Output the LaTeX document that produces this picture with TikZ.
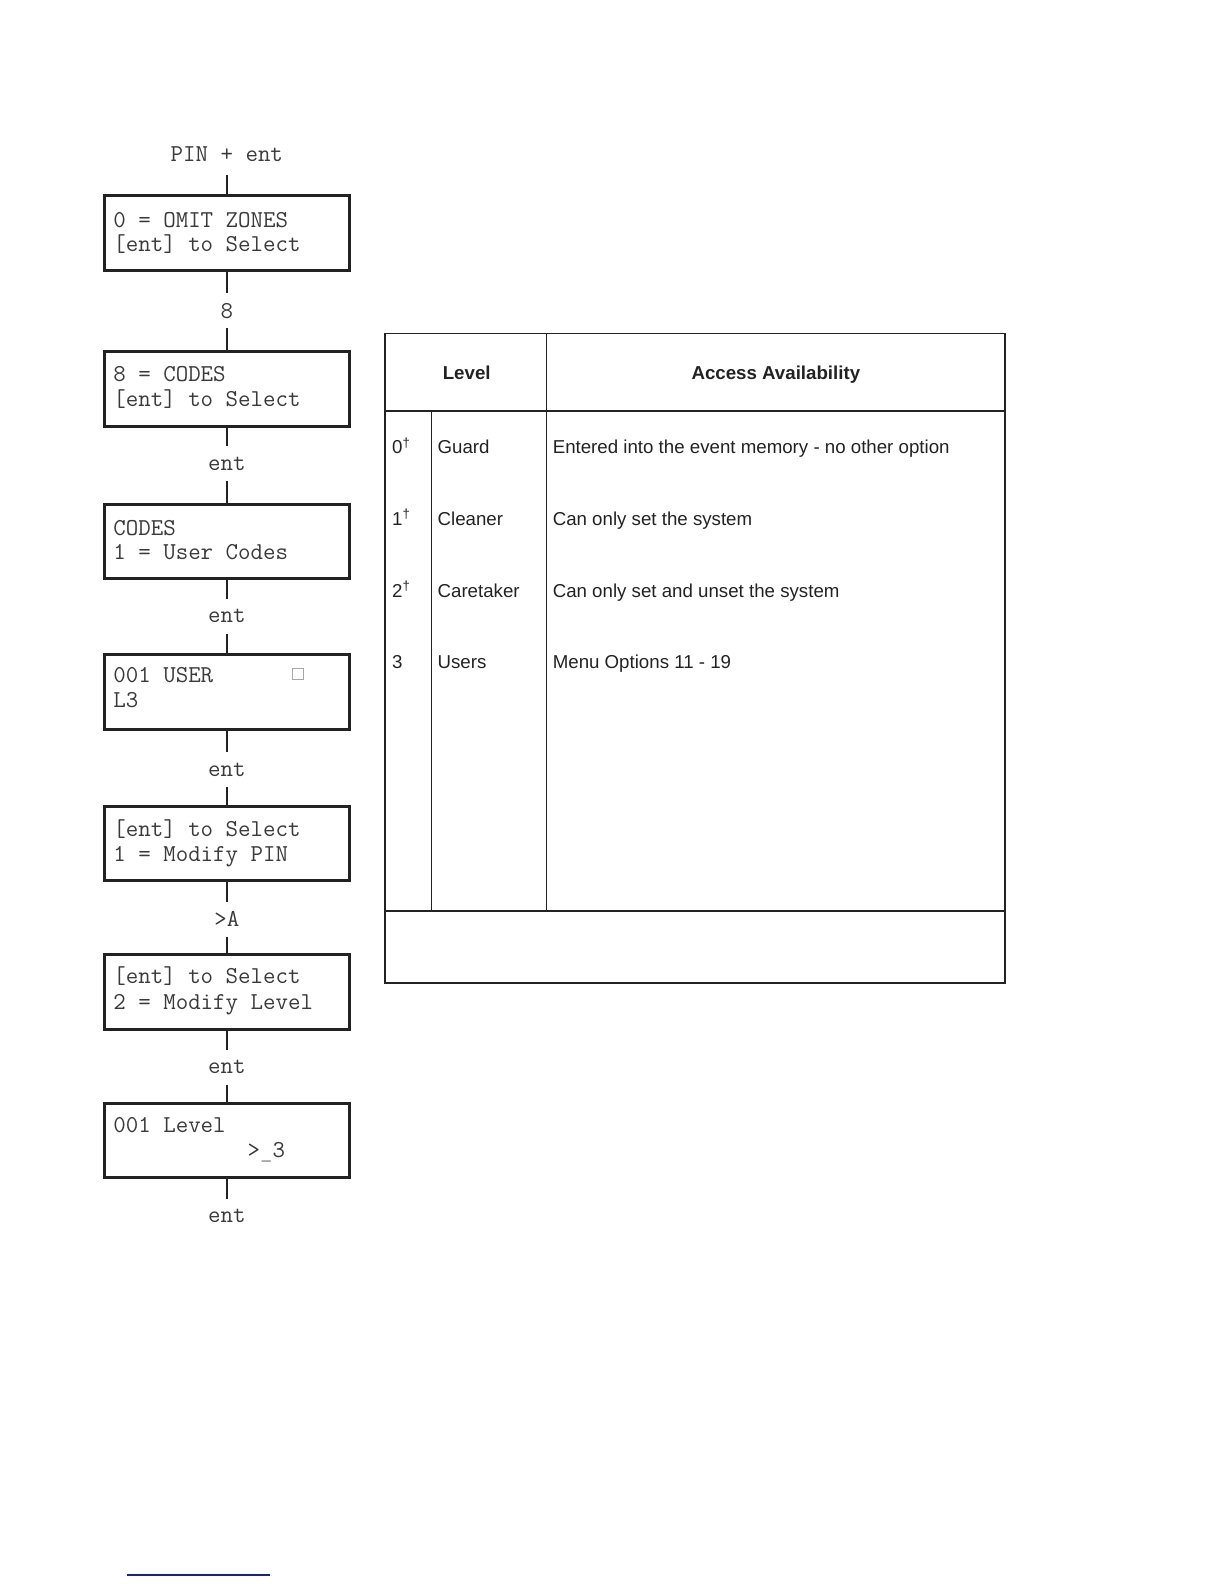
\documentclass[tikz,border=0pt]{standalone}
\usepackage{fontspec}
\setmainfont{Liberation Sans}
\usetikzlibrary{calc}
\definecolor{ink}{HTML}{222222}
\definecolor{lcdink}{HTML}{3A3A3A}
\definecolor{footblue}{HTML}{1A237E}
\tikzset{
  lcdbox/.style={draw=ink, line width=3pt, minimum width=243pt, minimum height=74pt, inner sep=0pt},
  lcdtext/.style={anchor=base west, inner sep=0pt, text=lcdink, font=\fontsize{24}{25}\selectfont\ttfamily},
  keylab/.style={inner sep=0pt, minimum height=34pt, text=lcdink, font=\fontsize{24}{25}\selectfont\ttfamily},
  conn/.style={draw=ink, line width=2.5pt},
  tline/.style={draw=ink, line width=1.6pt},
  thead/.style={inner sep=0pt, anchor=base, text=ink, font=\fontsize{18.5}{20}\selectfont\bfseries},
  tcell/.style={inner sep=0pt, anchor=base west, text=ink, font=\fontsize{18.5}{20}\selectfont},
}
\begin{document}
\begin{tikzpicture}[x=1pt,y=-1pt]
\useasboundingbox (0,0) rectangle (1212,1568);

% LCD boxes
\node[lcdbox] (b1) at (224.5,231) {};
\node[lcdbox] (b2) at (224.5,385) {};
\node[lcdbox] (b3) at (224.5,536) {};
\node[lcdbox] (b4) at (224.5,685) {};
\node[lcdbox] (b5) at (224.5,835) {};
\node[lcdbox] (b6) at (224.5,982) {};
\node[lcdbox] (b7) at (224.5,1129) {};

% box texts
\node[lcdtext] (t1a) at (112,225) {0 = OMIT ZONES};
\node[lcdtext] (t1b) at (112,249) {[ent] to Select};
\node[lcdtext] (t2a) at (112,378) {8 = CODES};
\node[lcdtext] (t2b) at (112,402) {[ent] to Select};
\node[lcdtext] (t3a) at (112,530) {CODES};
\node[lcdtext] (t3b) at (112,554) {1 = User Codes};
\node[lcdtext] (t4a) at (112,676) {001 USER};
\node[lcdtext] (t4b) at (112,700) {L3};
\node[draw=black!35, line width=1pt, minimum size=11pt, inner sep=0pt] (chk) at (295,667) {};
\node[lcdtext] (t5a) at (112,828) {[ent] to Select};
\node[lcdtext] (t5b) at (112,853) {1 = Modify PIN};
\node[lcdtext] (t6a) at (112,974) {[ent] to Select};
\node[lcdtext] (t6b) at (112,999) {2 = Modify Level};
\node[lcdtext] (t7a) at (112,1121) {001 Level};
\node[lcdtext] (t7b) at (245,1146) {>\textcolor{black!40}{\_}3};

% key labels
\node[keylab, minimum height=0pt] (l0) at (224.5,153) {PIN + ent};
\node[keylab] (l1) at (224.5,307.5) {8};
\node[keylab] (l2) at (224.5,459) {ent};
\node[keylab] (l3) at (224.5,610) {ent};
\node[keylab] (l4) at (224.5,762) {ent};
\node[keylab] (l5) at (224.5,910) {>A};
\node[keylab] (l6) at (224.5,1056.5) {ent};
\node[keylab] (l7) at (224.5,1204) {ent};
\coordinate (l0s) at (224.5,173);
\coordinate (l7n) at (224.5,1187);

% connectors
\draw[conn] (l0s) -- (b1.north);
\draw[conn] (b1.south) -- (l1.north);
\draw[conn] (l1.south) -- (b2.north);
\draw[conn] (b2.south) -- (l2.north);
\draw[conn] (l2.south) -- (b3.north);
\draw[conn] (b3.south) -- (l3.north);
\draw[conn] (l3.south) -- (b4.north);
\draw[conn] (b4.south) -- (l4.north);
\draw[conn] (l4.south) -- (b5.north);
\draw[conn] (b5.south) -- (l5.north);
\draw[conn] (l5.south) -- (b6.north);
\draw[conn] (b6.south) -- (l6.north);
\draw[conn] (l6.south) -- (b7.north);
\draw[conn] (b7.south) -- (l7n);

% table
\draw[tline] (381,330) rectangle (995,973);
\draw[tline] (381,407) -- (995,407);
\draw[tline] (381,902) -- (995,902);
\draw[tline] (541,330) -- (541,902);
\draw[tline] (427,407) -- (427,902);

\node[thead] (h1) at (462,376) {Level};
\node[thead] (h2) at (768,376) {Access Availability};

\node[tcell] (n0) at (388,449) {0\textsuperscript{†}};
\node[tcell] (g0) at (433,449) {Guard};
\node[tcell] (d0) at (547,449) {Entered into the event memory - no other option};
\node[tcell] (n1) at (388,520) {1\textsuperscript{†}};
\node[tcell] (g1) at (433,520) {Cleaner};
\node[tcell] (d1) at (547,520) {Can only set the system};
\node[tcell] (n2) at (388,591) {2\textsuperscript{†}};
\node[tcell] (g2) at (433,591) {Caretaker};
\node[tcell] (d2) at (547,591) {Can only set and unset the system};
\node[tcell] (n3) at (388,662) {3};
\node[tcell] (g3) at (433,662) {Users};
\node[tcell] (d3) at (547,662) {Menu Options 11 - 19};

% footnote rule
\draw[footblue, line width=1.3pt] (126,1559) -- (267,1559);
\end{tikzpicture}
\end{document}
